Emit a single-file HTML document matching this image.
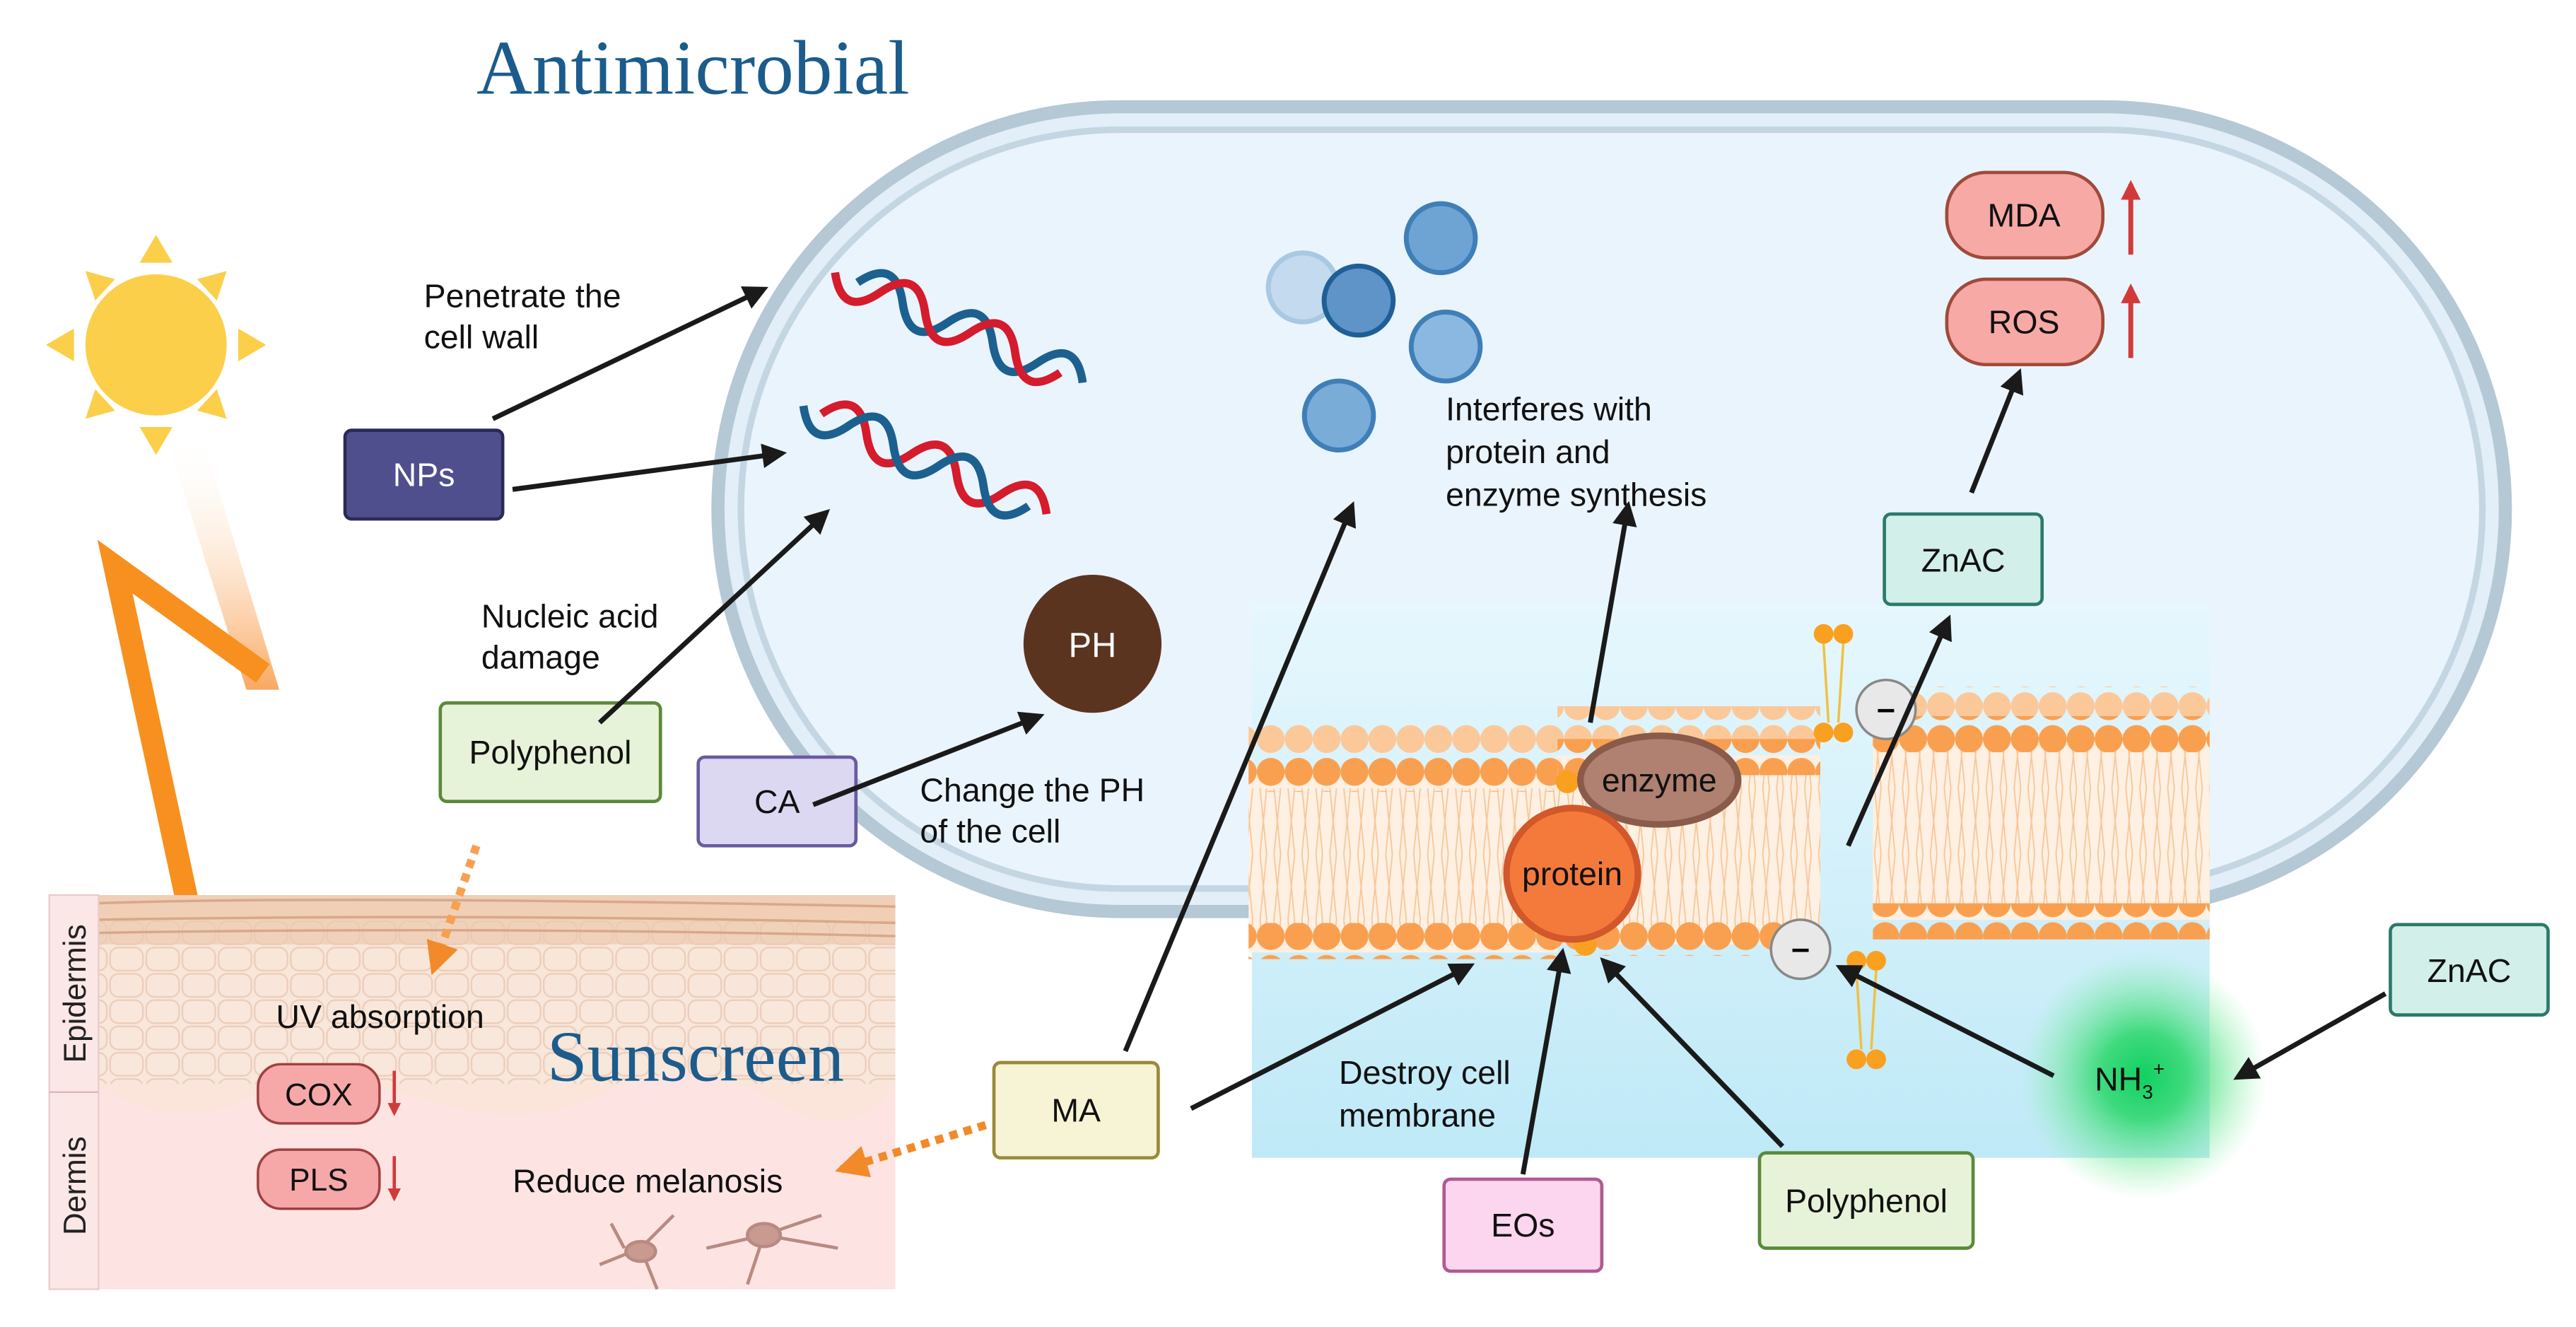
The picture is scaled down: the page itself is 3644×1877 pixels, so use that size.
<!DOCTYPE html>
<html><head><meta charset="utf-8"><style>html,body{margin:0;padding:0;background:#fff}svg{display:block}</style></head>
<body>
<svg width="3644" height="1877" viewBox="0 0 1568 808" preserveAspectRatio="none" xmlns="http://www.w3.org/2000/svg" font-family="Liberation Sans, sans-serif">
<defs>
<marker id="ah" viewBox="0 0 10 10" refX="8" refY="5" markerWidth="5" markerHeight="5" orient="auto-start-reverse"><path d="M0,0 L10,5 L0,10 z" fill="#1a1a1a"/></marker>
<marker id="ao" viewBox="0 0 10 10" refX="8" refY="5" markerWidth="4" markerHeight="4" orient="auto"><path d="M0,0 L10,5 L0,10 z" fill="#f28a2a"/></marker>
<marker id="ar" viewBox="0 0 10 10" refX="8" refY="5" markerWidth="4" markerHeight="4" orient="auto"><path d="M0,0 L10,5 L0,10 z" fill="#d23a3a"/></marker>
<radialGradient id="glow"><stop offset="0" stop-color="#10d060"/><stop offset="0.35" stop-color="#30d870" stop-opacity="0.9"/><stop offset="1" stop-color="#80f0a0" stop-opacity="0"/></radialGradient>
<linearGradient id="memb" x1="0" y1="0" x2="0" y2="1"><stop offset="0" stop-color="#e6f7fd"/><stop offset="1" stop-color="#bfe9f7"/></linearGradient>
<linearGradient id="beam" x1="0" y1="0" x2="0" y2="1"><stop offset="0" stop-color="#fff" stop-opacity="0"/><stop offset="1" stop-color="#f9a860"/></linearGradient>
<linearGradient id="skin" x1="0" y1="0" x2="0" y2="1"><stop offset="0" stop-color="#f6ddc8"/><stop offset="0.5" stop-color="#fbe4da"/><stop offset="1" stop-color="#fde0e0"/></linearGradient>
<pattern id="heads" width="17" height="20" patternUnits="userSpaceOnUse"><circle cx="8.5" cy="10" r="8.5" fill="#f9a050"/></pattern>
<pattern id="headsL" width="17" height="20" patternUnits="userSpaceOnUse"><circle cx="8.5" cy="10" r="8.5" fill="#fbc89a"/></pattern>
<pattern id="tails" width="8.5" height="40" patternUnits="userSpaceOnUse"><path d="M2,0 L4,20 L2,40 M6,0 L4,20 L6,40" stroke="#f7c79a" stroke-width="0.8" fill="none"/></pattern>
<pattern id="cells" width="22" height="16" patternUnits="userSpaceOnUse"><rect width="22" height="16" fill="#f8e8dc"/><rect x="1" y="1" width="20" height="14" rx="5" fill="none" stroke="#e8c8b4" stroke-width="1"/></pattern>
<path id="wave" d="M0,0 C10,-16 20,-16 30,0 S50,16 60,0 S80,-16 90,0 S110,16 120,0 S140,-16 150,0" fill="none" stroke-width="5"/>
</defs>

<text x="290" y="57" font-family="Liberation Serif, serif" font-size="47" fill="#1b5c8c">Antimicrobial</text>

<rect x="437" y="65" width="1088" height="490" rx="245" fill="#e2eef8" stroke="#b4c8d6" stroke-width="8"/>
<rect x="451" y="79" width="1060" height="462" rx="231" fill="#eaf4fd" stroke="#c4d6e2" stroke-width="4"/>

<g fill="#fccf4a">
<circle cx="95" cy="210" r="43"/>
<polygon points="95,143 85,160 105,160"/><polygon points="95,277 85,260 105,260"/>
<polygon points="28,210 45,200 45,220"/><polygon points="162,210 145,200 145,220"/>
<polygon points="52,165 70,170 58,183"/><polygon points="138,165 120,170 132,183"/>
<polygon points="52,255 70,250 58,237"/><polygon points="138,255 120,250 132,237"/>
</g>
<polygon points="100,262 122,262 170,420 150,420" fill="url(#beam)"/>
<polyline points="160,410 70,345 125,600" fill="none" stroke="#f7901e" stroke-width="14" stroke-linejoin="miter"/>
<polygon points="110,596 142,596 132,622" fill="#f7901e"/>

<rect x="30" y="545" width="515" height="240" fill="url(#skin)"/>
<rect x="60" y="560" width="485" height="100" fill="url(#cells)" opacity="0.8"/>
<path d="M60,545 H545 V575 H60 Z" fill="#ecc9ae" opacity="0.7"/>
<path d="M60,550 Q200,545 545,552 M60,560 Q300,556 545,562 M60,568 Q300,564 545,570" stroke="#d8a888" fill="none" stroke-width="1.5"/>
<path d="M60,660 Q100,690 150,670 T260,670 T370,665 T470,670 T545,660 V785 H60 Z" fill="#fde4e2"/>
<rect x="30" y="545" width="30" height="240" fill="#fbe8e6" stroke="#e8cccc"/>
<line x1="30" y1="665" x2="60" y2="665" stroke="#d8b8b8"/>
<text transform="translate(52,605) rotate(-90)" font-size="19" text-anchor="middle" fill="#222">Epidermis</text>
<text transform="translate(52,722) rotate(-90)" font-size="19" text-anchor="middle" fill="#222">Dermis</text>
<g stroke="#b88a82" stroke-width="2" fill="#c89a90">
<path d="M365,770 L390,760 L410,740 M390,760 L400,785 M380,760 L372,745" fill="none"/>
<ellipse cx="390" cy="762" rx="9" ry="6"/>
<path d="M430,760 L465,752 L500,740 M465,752 L455,782 M465,752 L510,760" fill="none"/>
<ellipse cx="465" cy="752" rx="10" ry="7"/>
</g>
<text x="168" y="626" font-size="20" fill="#111">UV absorption</text>
<text x="333" y="658" font-family="Liberation Serif, serif" font-size="44" fill="#1b5c8c">Sunscreen</text>
<rect x="157" y="648" width="74" height="36" rx="14" fill="#f6a8a8" stroke="#a04040" stroke-width="1.5"/>
<text x="194" y="673" font-size="19" text-anchor="middle" fill="#111">COX</text>
<rect x="157" y="700" width="74" height="36" rx="14" fill="#f6a8a8" stroke="#a04040" stroke-width="1.5"/>
<text x="194" y="725" font-size="19" text-anchor="middle" fill="#111">PLS</text>
<line x1="240" y1="652" x2="240" y2="678" stroke="#d23a3a" stroke-width="2" marker-end="url(#ar)"/>
<line x1="240" y1="704" x2="240" y2="730" stroke="#d23a3a" stroke-width="2" marker-end="url(#ar)"/>
<text x="312" y="726" font-size="20" fill="#111">Reduce melanosis</text>
<line x1="290" y1="515" x2="264" y2="590" stroke="#f7a050" stroke-width="5" stroke-dasharray="5,4" marker-end="url(#ao)"/>
<line x1="600" y1="685" x2="512" y2="712" stroke="#f28a2a" stroke-width="5" stroke-dasharray="5,4" marker-end="url(#ao)"/>

<rect x="762" y="368" width="583" height="337" fill="url(#memb)"/>
<rect x="760" y="470" width="188" height="110" fill="#fef0e2"/>
<rect x="760" y="480" width="188" height="90" fill="url(#tails)"/>
<rect x="760" y="440" width="188" height="22" fill="url(#headsL)"/>
<rect x="760" y="460" width="188" height="22" fill="url(#heads)"/>
<rect x="760" y="562" width="188" height="22" fill="url(#heads)"/>
<rect x="948" y="460" width="160" height="115" fill="#fef0e2"/>
<rect x="948" y="470" width="160" height="95" fill="url(#tails)"/>
<rect x="948" y="430" width="160" height="22" fill="url(#headsL)"/>
<rect x="948" y="450" width="160" height="22" fill="url(#heads)"/>
<rect x="948" y="560" width="160" height="22" fill="url(#heads)"/>
<rect x="1140" y="445" width="205" height="115" fill="#fef0e2"/>
<rect x="1140" y="450" width="205" height="100" fill="url(#tails)"/>
<rect x="1140" y="418" width="205" height="22" fill="url(#headsL)"/>
<rect x="1140" y="436" width="205" height="22" fill="url(#heads)"/>
<rect x="1140" y="550" width="205" height="22" fill="url(#heads)"/>
<g fill="#f9a020"><circle cx="1110" cy="386" r="6"/><circle cx="1122" cy="386" r="6"/><circle cx="1110" cy="446" r="6"/><circle cx="1122" cy="446" r="6"/>
<circle cx="1130" cy="585" r="6"/><circle cx="1142" cy="585" r="6"/><circle cx="1130" cy="645" r="6"/><circle cx="1142" cy="645" r="6"/></g>
<path d="M1110,392 L1113,440 M1122,392 L1119,440 M1130,591 L1133,639 M1142,591 L1139,639" stroke="#f0c040" stroke-width="1.5"/>
<circle cx="1148" cy="432" r="18" fill="#e8e8e8" stroke="#888" stroke-width="1.5"/><text x="1148" y="438" font-size="20" text-anchor="middle" font-weight="bold">–</text>
<circle cx="1096" cy="578" r="18" fill="#e8e8e8" stroke="#888" stroke-width="1.5"/><text x="1096" y="584" font-size="20" text-anchor="middle" font-weight="bold">–</text>
<circle cx="954" cy="476" r="7" fill="#f9a020"/><circle cx="965" cy="575" r="7" fill="#f9a020"/>
<ellipse cx="1010" cy="475" rx="48" ry="27" fill="#b08070" stroke="#8a5a4a" stroke-width="4"/>
<text x="1010" y="482" font-size="20" text-anchor="middle" fill="#111">enzyme</text>
<circle cx="957" cy="532" r="40" fill="#f47a3c" stroke="#d2572a" stroke-width="4"/>
<text x="957" y="539" font-size="20" text-anchor="middle" fill="#111">protein</text>
<circle cx="1305" cy="655" r="75" fill="url(#glow)"/>
<text x="1275" y="664" font-size="20" fill="#111">NH<tspan font-size="12" dy="5">3</tspan><tspan font-size="12" dy="-14">+</tspan></text>

<!-- DNA -->
<g transform="translate(522,172) rotate(24)">
<use href="#wave" stroke="#1c6090"/>
<use href="#wave" stroke="#d41c2c" transform="translate(-15,0) scale(1,-1) translate(0,0)"/>
</g>
<g transform="translate(500,252) rotate(24)">
<use href="#wave" stroke="#d41c2c"/>
<use href="#wave" stroke="#1c6090" transform="translate(-12,0) scale(1,-1)"/>
</g>
<g stroke="#3f7fb8" stroke-width="3">
<circle cx="793" cy="175" r="21" fill="#c4daee" stroke="#a8c8e4"/>
<circle cx="827" cy="183" r="21" fill="#5f94c8" stroke="#1f5f98"/>
<circle cx="877" cy="145" r="21" fill="#6ea4d4"/>
<circle cx="880" cy="211" r="21" fill="#8ab8e0"/>
<circle cx="815" cy="253" r="21" fill="#7aacd8"/>
</g>
<circle cx="665" cy="392" r="42" fill="#5b3420"/>
<text x="665" y="400" font-size="21" text-anchor="middle" fill="#fff">PH</text>

<g font-size="20" fill="#111">
<text x="258" y="187">Penetrate the</text><text x="258" y="212">cell wall</text>
<text x="293" y="382">Nucleic acid</text><text x="293" y="407">damage</text>
<text x="560" y="488">Change the PH</text><text x="560" y="513">of the cell</text>
<text x="880" y="256">Interferes with</text><text x="880" y="282">protein and</text><text x="880" y="308">enzyme synthesis</text>
<text x="815" y="660">Destroy cell</text><text x="815" y="686">membrane</text>
</g>

<g font-size="20" text-anchor="middle" fill="#111">
<rect x="210" y="262" width="96" height="54" rx="4" fill="#4f4f8d" stroke="#2a2a5a" stroke-width="2"/><text x="258" y="296" fill="#fff">NPs</text>
<rect x="268" y="428" width="134" height="60" rx="4" fill="#e6f3d8" stroke="#5a8a3a" stroke-width="2"/><text x="335" y="465">Polyphenol</text>
<rect x="425" y="461" width="96" height="54" rx="4" fill="#dcd8f2" stroke="#6a5aa0" stroke-width="2"/><text x="473" y="495">CA</text>
<rect x="1147" y="313" width="96" height="55" rx="4" fill="#d2efe9" stroke="#2b7a6a" stroke-width="2"/><text x="1195" y="348">ZnAC</text>
<rect x="1455" y="563" width="96" height="55" rx="4" fill="#d2efe9" stroke="#2b7a6a" stroke-width="2"/><text x="1503" y="598">ZnAC</text>
<rect x="605" y="647" width="100" height="58" rx="4" fill="#f7f4d6" stroke="#9a8a3a" stroke-width="2"/><text x="655" y="683">MA</text>
<rect x="879" y="718" width="96" height="56" rx="4" fill="#fbd6ee" stroke="#b05a90" stroke-width="2"/><text x="927" y="753">EOs</text>
<rect x="1071" y="702" width="130" height="58" rx="4" fill="#e6f3d8" stroke="#5a8a3a" stroke-width="2"/><text x="1136" y="738">Polyphenol</text>
<rect x="1185" y="105" width="95" height="52" rx="24" fill="#f7a9a6" stroke="#a04a3a" stroke-width="2"/><text x="1232" y="138">MDA</text>
<rect x="1185" y="170" width="95" height="52" rx="24" fill="#f7a9a6" stroke="#a04a3a" stroke-width="2"/><text x="1232" y="203">ROS</text>
</g>
<line x1="1297" y1="155" x2="1297" y2="112" stroke="#d23a3a" stroke-width="3" marker-end="url(#ar)"/>
<line x1="1297" y1="218" x2="1297" y2="175" stroke="#d23a3a" stroke-width="3" marker-end="url(#ar)"/>

<g stroke="#1a1a1a" stroke-width="3" marker-end="url(#ah)" fill="none">
<line x1="300" y1="255" x2="465" y2="176"/>
<line x1="312" y1="298" x2="476" y2="276"/>
<line x1="365" y1="440" x2="503" y2="312"/>
<line x1="495" y1="490" x2="633" y2="436"/>
<line x1="685" y1="640" x2="823" y2="308"/>
<line x1="968" y1="440" x2="991" y2="308"/>
<line x1="1125" y1="515" x2="1186" y2="377"/>
<line x1="1200" y1="300" x2="1229" y2="227"/>
<line x1="725" y1="675" x2="895" y2="588"/>
<line x1="927" y1="715" x2="951" y2="580"/>
<line x1="1085" y1="698" x2="976" y2="585"/>
<line x1="1250" y1="655" x2="1120" y2="589"/>
<line x1="1452" y1="605" x2="1362" y2="656"/>
</g>
</svg>
</body></html>
